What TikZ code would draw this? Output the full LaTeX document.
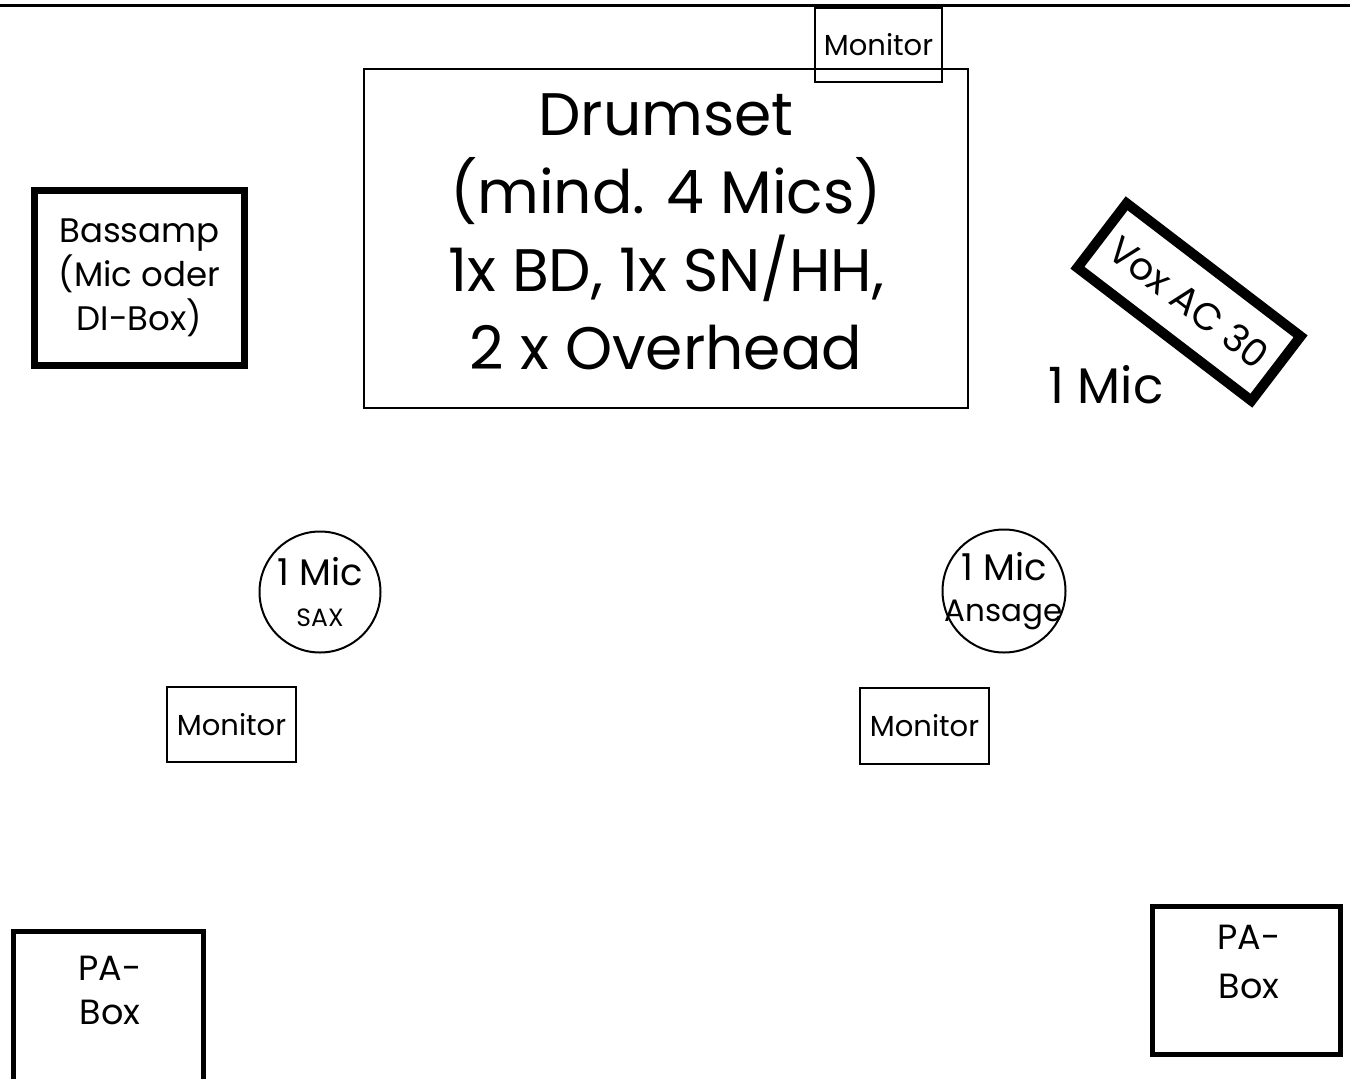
\documentclass[tikz,border=0pt]{standalone}
\usepackage{fontspec}
\setmainfont{Poppins}
\usetikzlibrary{positioning}

\tikzset{
  thinbox/.style={draw, line width=2pt, inner sep=0pt, align=center},
  thickbox/.style={draw, line width=7pt, inner sep=0pt, align=center},
  pabox/.style={draw, line width=5pt, inner sep=0pt},
  micring/.style={draw, circle, line width=2pt, inner sep=-14pt, minimum size=121pt, align=center},
  plain/.style={inner sep=0pt, align=center},
}

\begin{document}
\begin{tikzpicture}[x=1pt, y=-1pt]
  \useasboundingbox (0,0) rectangle (1350,1079);
  % stage edge
  \coordinate (edgeL) at (0,5);
  \coordinate (edgeR) at (1350,5);
  \draw[line width=3pt] (edgeL) -- (edgeR);

  % drums
  \node[thinbox, minimum width=604pt, minimum height=339pt] (drums) at (666,238.5) {};
  \node[plain, font=\fontsize{60}{78}\selectfont] (drumstext) at (666,232)
        {Drumset\\(mind. 4 Mics)\\1x BD, 1x SN/HH,\\2 x Overhead};
  \node[thinbox, minimum width=127pt, minimum height=74pt,
        font=\fontsize{29}{34}\selectfont] (mondrums) at (878.5,45) {Monitor};

  % bass
  \node[thickbox, minimum width=210pt, minimum height=175pt,
        font=\fontsize{34}{44}\selectfont] (bassamp) at (139.5,278)
        {Bassamp\\(Mic oder\\DI-Box)};

  % guitar amp
  \node[draw, line width=10pt, rotate=-37.4, minimum width=219pt, minimum height=81pt,
        inner sep=0pt, font=\fontsize{38}{44}\selectfont] (vox) at (1189,302) {Vox AC 30};
  \node[plain, font=\fontsize{50}{56}\selectfont] (voxmic) at (1106,385) {1 Mic};

  % vocal mics
  \node[micring, font=\fontsize{37}{41}\selectfont] (sax) at (320,592)
        {1 Mic\\{\fontsize{25}{30}\selectfont SAX}};
  \node[micring, minimum size=123pt, font=\fontsize{37}{41}\selectfont] (ansage) at (1004,591)
        {1 Mic\\{\fontsize{31}{36}\selectfont Ansage}};

  % floor monitors
  \node[thinbox, minimum width=129pt, minimum height=75pt,
        font=\fontsize{29}{34}\selectfont] (monsax) at (231.5,724.5) {Monitor};
  \node[thinbox, minimum width=129pt, minimum height=76pt,
        font=\fontsize{29}{34}\selectfont] (monansage) at (924.5,726) {Monitor};

  % PA
  \node[plain, font=\fontsize{35}{44}\selectfont] (paleft) at (110,990) {PA-\\Box};
  \draw[line width=5pt] (13.5,1090) |- (203.5,931.5) -- (203.5,1090);
  \node[pabox, minimum width=188pt, minimum height=148pt] (paright) at (1246.5,980.5) {};
  \node[plain, font=\fontsize{35}{49}\selectfont] (parighttext) at (1249,962) {PA-\\Box};
\end{tikzpicture}
\end{document}
